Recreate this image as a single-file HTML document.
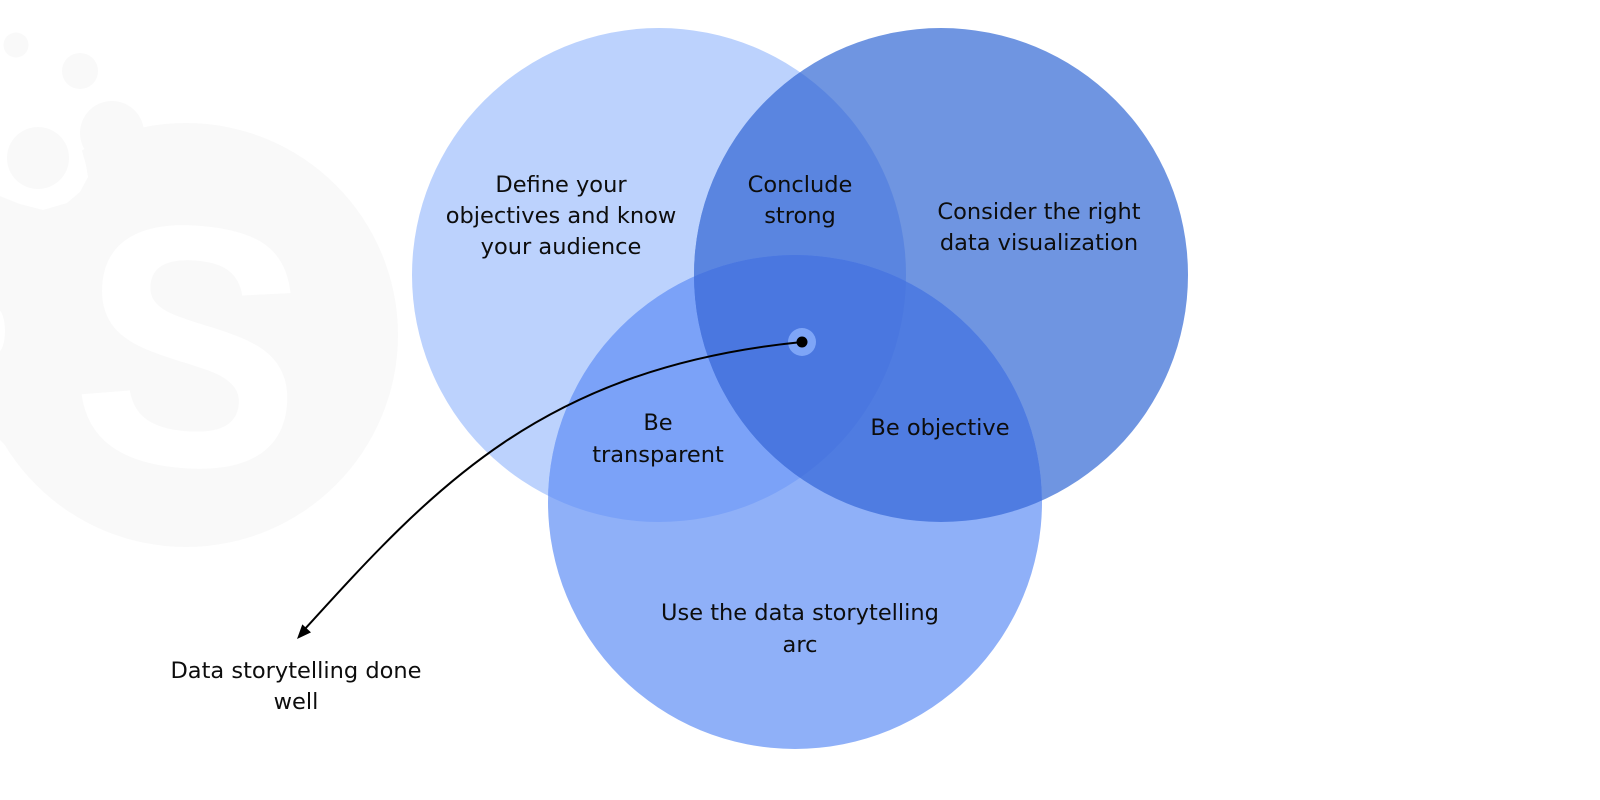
<!DOCTYPE html>
<html>
<head>
<meta charset="utf-8">
<style>
  html,body{margin:0;padding:0;background:#fff;}
  body{width:1600px;height:800px;overflow:hidden;}
  svg{display:block;}
  .t{font-family:"DejaVu Sans","Liberation Sans",sans-serif;font-size:22.5px;fill:#0d0d0d;text-anchor:middle;}
</style>
</head>
<body>
<svg width="1600" height="800" viewBox="0 0 1600 800" xmlns="http://www.w3.org/2000/svg">
  <defs>
    <clipPath id="cA"><circle cx="659" cy="275" r="247"/></clipPath>
    <clipPath id="cB"><circle cx="941" cy="275" r="247"/></clipPath>
    <clipPath id="cC"><circle cx="795" cy="502" r="247"/></clipPath>
  </defs>

  <!-- background logo -->
  <g fill="#f9f9f9">
    <circle cx="186" cy="335" r="212"/>
    <polygon points="0,196 20,204 43,210 67,203 88,177 120,200 100,300 0,300"/>
    <polygon points="0,420 30,420 30,470 0,440"/>
  </g>
  <polygon fill="#ffffff" points="0,100 79,100 79,140 86,165 88,177 80,192 67,203 43,210 20,204 0,196"/>
  <ellipse cx="-3" cy="331" rx="8" ry="22" fill="#ffffff"/>
  <g fill="#f9f9f9">
    <circle cx="112" cy="133" r="32"/>
    <circle cx="38" cy="158" r="31"/>
    <circle cx="16" cy="45" r="12.5"/>
    <circle cx="80" cy="71" r="18"/>
  </g>
  <text x="191" y="465" font-family="Liberation Sans, Arial, sans-serif" font-weight="bold" font-size="343" fill="#ffffff" text-anchor="middle" transform="rotate(5 191 343)">S</text>

  <!-- circles -->
  <circle cx="659" cy="275" r="247" fill="#bcd2fd"/>
  <circle cx="941" cy="275" r="247" fill="#6f95e1"/>
  <circle cx="795" cy="502" r="247" fill="#8fb0f8"/>
  <!-- A∩B -->
  <g clip-path="url(#cA)"><circle cx="941" cy="275" r="247" fill="#5a85e0"/></g>
  <!-- A∩C -->
  <g clip-path="url(#cA)"><circle cx="795" cy="502" r="247" fill="#7ba2f8"/></g>
  <!-- B∩C -->
  <g clip-path="url(#cB)"><circle cx="795" cy="502" r="247" fill="#4f7ce1"/></g>
  <!-- A∩B∩C -->
  <g clip-path="url(#cA)"><g clip-path="url(#cB)"><circle cx="795" cy="502" r="247" fill="#4a77e0"/></g></g>

  <!-- labels -->
  <text class="t" x="561" y="192">Define your</text>
  <text class="t" x="561" y="223">objectives and know</text>
  <text class="t" x="561" y="254">your audience</text>

  <text class="t" x="800" y="192">Conclude</text>
  <text class="t" x="800" y="223">strong</text>

  <text class="t" x="1039" y="219">Consider the right</text>
  <text class="t" x="1039" y="250">data visualization</text>

  <text class="t" x="658" y="430">Be</text>
  <text class="t" x="658" y="462">transparent</text>

  <text class="t" x="940" y="435">Be objective</text>

  <text class="t" x="800" y="620">Use the data storytelling</text>
  <text class="t" x="800" y="652">arc</text>

  <text class="t" x="296" y="678">Data storytelling done</text>
  <text class="t" x="296" y="709">well</text>

  <!-- connector -->
  <circle cx="802" cy="342" r="14" fill="#7ea5f7"/>
  <path d="M802,342 C542,368 433,488 304,630" fill="none" stroke="#000" stroke-width="2"/>
  <polygon points="297,639 311,632.4 302.3,624.4" fill="#000"/>
  <circle cx="802" cy="342" r="5.5" fill="#000"/>
</svg>
</body>
</html>
